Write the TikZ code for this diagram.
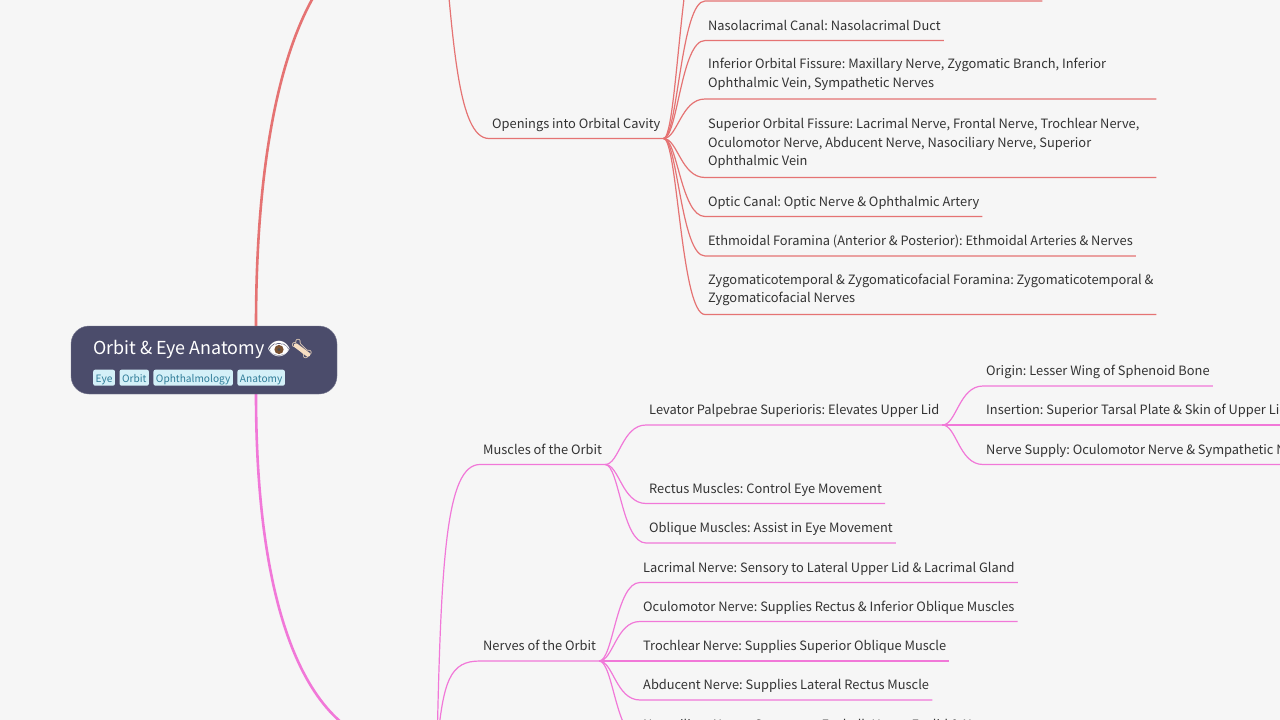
\documentclass[tikz,border=0pt]{standalone}
\usepackage{fontspec}
\usepackage{tikz}
\usetikzlibrary{positioning}
\setmainfont{Noto Sans CJK SC}
\newfontfamily\emojifont{Noto Emoji}
\definecolor{paper}{HTML}{F6F6F6}
\definecolor{rootfill}{HTML}{4B4C6B}
\definecolor{tagfill}{HTML}{D4F0F8}
\definecolor{tagtext}{HTML}{2F7C98}
\definecolor{redline}{HTML}{E57373}
\definecolor{pinkline}{HTML}{F178D8}
\definecolor{bonecol}{HTML}{F7DEC2}
\definecolor{iriscol}{HTML}{7A5232}
\frenchspacing
\newcommand{\leafstart}{\spaceskip 0pt\relax\strut}

\begin{document}
\begin{tikzpicture}[x=1pt,y=-1pt,
    leaf/.style={anchor=south west,inner xsep=3pt,inner ysep=4.4pt,text=black!80,
                 font=\fontsize{12.85}{18.5}\selectfont,
                 execute at begin node=\leafstart,execute at end node=\strut},
    wide/.style={leaf,text width=445pt,align=left,inner ysep=5.8pt},
    tagbox/.style={fill=tagfill,text=tagtext,rounded corners=2pt,inner xsep=2.5pt,inner ysep=3pt,
                   text height=10pt,text depth=0pt,font=\fontsize{10.15}{12}\selectfont},
    fan/.style={to path={.. controls ([xshift=14pt]\tikztostart) and ([xshift=-24pt]\tikztotarget) .. (\tikztotarget)}},
    linkred/.style={draw=redline,line width=1.2pt},
    linkpink/.style={draw=pinkline,line width=1.2pt}]

  \useasboundingbox (0,0) rectangle (1280,720);
  \clip (0,0) rectangle (1280,720);
  \fill[paper] (0,0) rectangle (1280,720);

  % upper branch
  \coordinate (rootup) at (256,326);
  \coordinate (rootdown) at (256,394);
  \coordinate (upsrc) at (443,-70);
  \coordinate (downsrc) at (437,748);

  \node[leaf] (openings) at (489,138.5) {Openings into Orbital Cavity};
  \node[leaf,minimum width=300pt] (leafa) at (705,-78) {};
  \node[leaf,minimum width=337pt] (leafb) at (705,1) {};
  \node[leaf] (nasolac) at (705,40.5) {Nasolacrimal Canal: Nasolacrimal Duct};
  \node[wide] (inforb) at (705,99) {Inferior Orbital Fissure: Maxillary Nerve, Zygomatic Branch, Inferior\\Ophthalmic Vein, Sympathetic Nerves};
  \node[wide] (suporb) at (705,177.5) {Superior Orbital Fissure: Lacrimal Nerve, Frontal Nerve, Trochlear Nerve,\\Oculomotor Nerve, Abducent Nerve, Nasociliary Nerve, Superior\\Ophthalmic Vein};
  \node[leaf] (optic) at (705,216.5) {Optic Canal: Optic Nerve \& Ophthalmic Artery};
  \node[leaf] (ethmoid) at (705,256) {Ethmoidal Foramina (Anterior \& Posterior): Ethmoidal Arteries \& Nerves};
  \node[wide] (zygoma) at (705,314.5) {\mbox{Zygomaticotemporal \& Zygomaticofacial Foramina: Zygomaticotemporal \&}\\Zygomaticofacial Nerves};

  % lower branch
  \node[leaf] (muscles) at (480,464.5) {Muscles of the Orbit};
  \node[leaf] (levator) at (646,425) {Levator Palpebrae Superioris: Elevates Upper Lid};
  \node[leaf] (rectus) at (646,503.5) {Rectus Muscles: Control Eye Movement};
  \node[leaf] (oblique) at (646,543) {Oblique Muscles: Assist in Eye Movement};
  \node[leaf] (origin) at (983,386) {Origin: Lesser Wing of Sphenoid Bone};
  \node[leaf] (insert) at (983,425) {Insertion: Superior Tarsal Plate \& Skin of Upper Lid};
  \node[leaf] (supply) at (983,464.5) {Nerve Supply: Oculomotor Nerve \& Sympathetic Nerves};
  \node[leaf] (nerves) at (480,661) {Nerves of the Orbit};
  \node[leaf] (lacrimal) at (640,582.5) {Lacrimal Nerve: Sensory to Lateral Upper Lid \& Lacrimal Gland};
  \node[leaf] (oculo) at (640,621.5) {Oculomotor Nerve: Supplies Rectus \& Inferior Oblique Muscles};
  \node[leaf] (trochlear) at (640,661) {Trochlear Nerve: Supplies Superior Oblique Muscle};
  \node[leaf] (abducent) at (640,700) {Abducent Nerve: Supplies Lateral Rectus Muscle};
  \node[leaf] (nasocil) at (640,739.5) {Nasociliary Nerve: Sensory to Eyeball, Upper Eyelid \& Nose};

  \draw[redline,line width=2.6pt] (rootup) .. controls (256,80) and (310,-70) .. (410,-70) -- (upsrc);
  \draw[pinkline,line width=2.6pt] (rootdown) .. controls (256,620) and (310,748) .. (410,748) -- (downsrc);

  \draw[linkred] (upsrc) .. controls (453,40) and (458,138.5) .. (openings.south west) -- (openings.south east);
  \foreach \n in {leafa,leafb,nasolac,inforb,suporb,optic,ethmoid,zygoma}
    \draw[linkred] (openings.south east) to[fan] (\n.south west) -- (\n.south east);

  \draw[linkpink] (downsrc) .. controls (441,560) and (446,464.5) .. (muscles.south west) -- (muscles.south east);
  \draw[linkpink] (downsrc) .. controls (443,680) and (450,661) .. (nerves.south west) -- (nerves.south east);
  \foreach \n in {levator,rectus,oblique}
    \draw[linkpink] (muscles.south east) to[fan] (\n.south west) -- (\n.south east);
  \foreach \n in {origin,insert,supply}
    \draw[linkpink] (levator.south east) to[fan] (\n.south west) -- (\n.south east);
  \foreach \n in {lacrimal,oculo,trochlear,abducent,nasocil}
    \draw[linkpink] (nerves.south east) to[fan] (\n.south west) -- (\n.south east);

  % root topic
  \node[fill=rootfill,draw=rootfill!75!white,rounded corners=18pt,minimum width=266pt,minimum height=68pt,inner sep=0pt] (root) at (204,360) {};
  \node[anchor=base west,inner sep=0pt,text=white,font=\fontsize{17.9}{22}\selectfont] (title) at (93,354.5) {Orbit \& Eye Anatomy};
  \node[tagbox,anchor=north west] (tageye) at (93,369.5) {Eye};
  \node[tagbox,right=4.2pt of tageye] (tagorbit) {Orbit};
  \node[tagbox,right=4.2pt of tagorbit] (tagoph) {Ophthalmology};
  \node[tagbox,right=4.2pt of tagoph] (taganat) {Anatomy};

  % emoji
  \fill[white] (279,349.5) ellipse (9pt and 5.5pt);
  \draw[bonecol,line width=4.5pt,line cap=round] (296,345.5) -- (308,354.5);
  \node[inner sep=0pt,text=white,font=\emojifont\fontsize{19}{22}\selectfont] (eyeicon) at (279,349.5) {^^^^^^01f441};
  \node[inner sep=0pt,text=bonecol,font=\emojifont\fontsize{19}{22}\selectfont] (boneicon) at (302,349.5) {^^^^^^01f9b4};
  \fill[iriscol] (279,349.5) circle (4.6pt);
  \fill[black!70] (279,349.5) circle (1.6pt);
\end{tikzpicture}
\end{document}
